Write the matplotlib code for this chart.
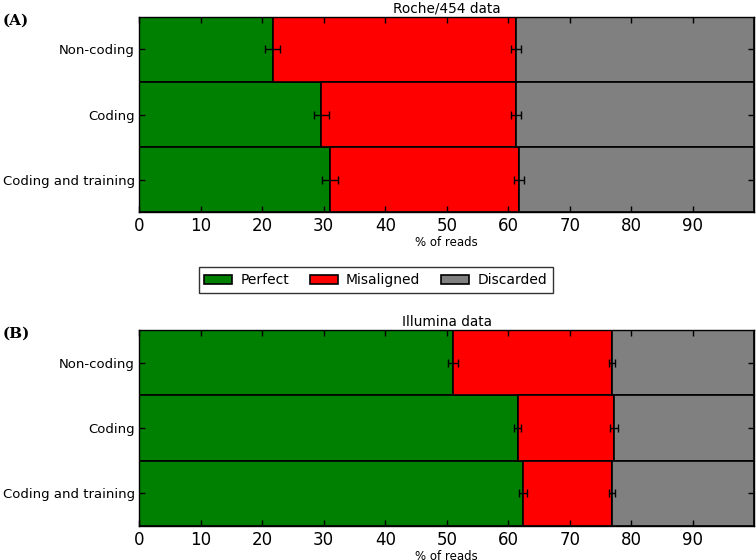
import matplotlib
matplotlib.use("Agg")
import matplotlib.pyplot as plt
import numpy as np

categories = ["Non-coding", "Coding", "Coding and training"]
series_names = ["Perfect", "Misaligned", "Discarded"]
colors = ["#008000", "#ff0000", "#808080"]

# Roche/454
roche_perfect = [21.7, 29.6, 31.1]
roche_misaligned = [39.6, 31.7, 30.7]
roche_perfect_err = [1.2, 1.2, 1.3]
roche_cum_err = [0.8, 0.8, 0.8]

# Illumina
illum_perfect = [51.0, 61.5, 62.4]
illum_misaligned = [25.8, 15.7, 14.4]
illum_perfect_err = [0.8, 0.6, 0.7]
illum_cum_err = [0.5, 0.6, 0.5]

xticks = list(range(0, 100, 10))

fig = plt.figure(figsize=(7.56, 5.6), dpi=100)
axA = fig.add_axes([0.184, 0.621, 0.814, 0.349])
axB = fig.add_axes([0.184, 0.061, 0.814, 0.350])


def draw(ax, perfect, misaligned, perr, cerr, title):
    y = np.arange(len(categories))[::-1]
    perfect = np.array(perfect)
    mis = np.array(misaligned)
    disc = 100 - perfect - mis
    handles = []
    left = np.zeros(len(categories))
    for vals, c, name in zip([perfect, mis, disc], colors, series_names):
        h = ax.barh(y, vals, left=left, height=1.0, color=c, edgecolor="black",
                    linewidth=1.2, label=name)
        handles.append(h)
        left = left + vals
    ax.errorbar(perfect, y, xerr=perr, fmt="none", ecolor="black", elinewidth=1, capsize=3, capthick=1)
    ax.errorbar(perfect + mis, y, xerr=cerr, fmt="none", ecolor="black", elinewidth=1, capsize=3, capthick=1)
    ax.set_xlim(0, 100)
    ax.set_ylim(-0.5, 2.5)
    ax.set_yticks(y)
    ax.set_yticklabels(categories, fontsize=9.5)
    ax.set_xticks(xticks)
    ax.set_xticklabels([str(t) for t in xticks], fontsize=12)
    ax.tick_params(direction="in", top=True, right=True, length=4, width=1)
    ax.tick_params(axis="y", pad=3)
    ax.set_xlabel("% of reads", fontsize=8.5, labelpad=1)
    ax.set_title(title, fontsize=9.8, pad=3)
    for s in ax.spines.values():
        s.set_linewidth(1)
    return handles


hA = draw(axA, roche_perfect, roche_misaligned, roche_perfect_err, roche_cum_err, "Roche/454 data")
draw(axB, illum_perfect, illum_misaligned, illum_perfect_err, illum_cum_err, "Illumina data")

fig.legend(handles=hA, labels=series_names, loc="center", bbox_to_anchor=(0.497, 0.5), ncol=3,
           fontsize=10, frameon=True, fancybox=False, edgecolor="black", handlelength=2.0,
           handleheight=0.6, columnspacing=1.5, borderpad=0.4, handletextpad=0.6
           ).get_frame().set_linewidth(1)

fig.text(0.003, 0.975, "(A)", fontsize=11, fontweight="bold", family="DejaVu Serif", va="top")
fig.text(0.003, 0.417, "(B)", fontsize=11, fontweight="bold", family="DejaVu Serif", va="top")

fig.savefig("out.png", dpi=100)
